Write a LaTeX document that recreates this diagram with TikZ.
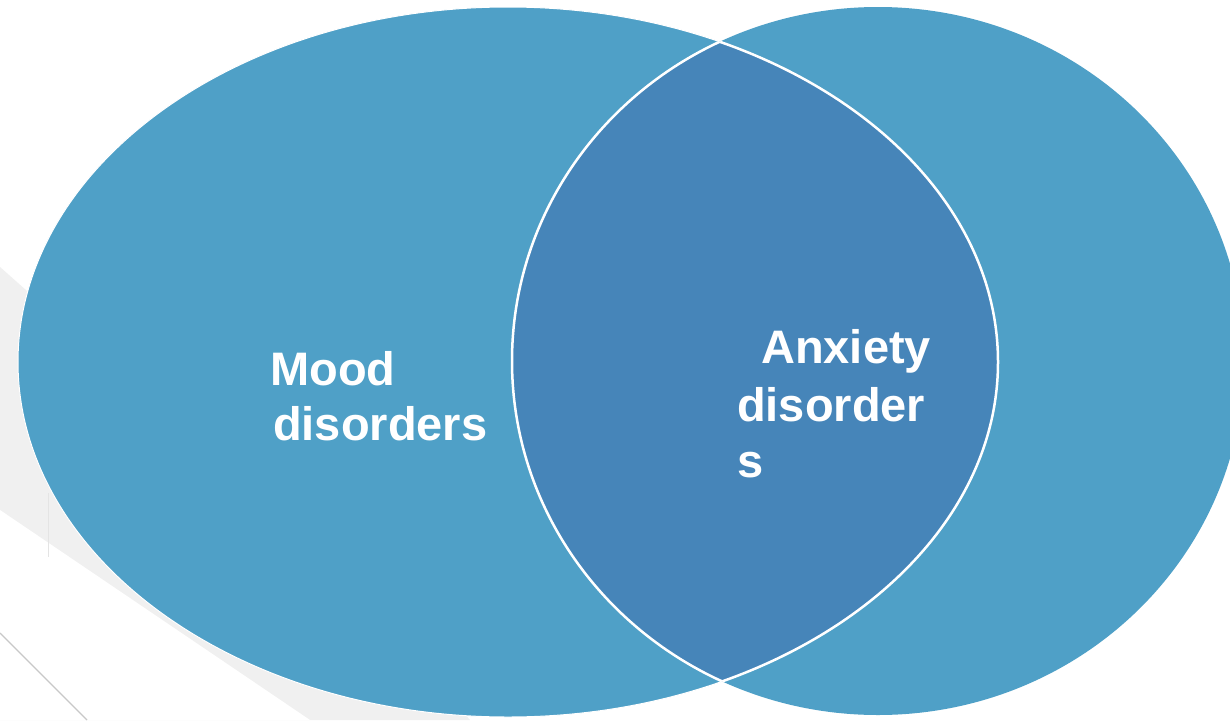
\documentclass[tikz,border=0pt]{standalone}
\usepackage{fontspec}
\setmainfont{Liberation Sans}
\definecolor{vlight}{RGB}{79,160,199}
\definecolor{vdark}{RGB}{70,133,185}
\definecolor{bggray}{RGB}{240,240,240}
\definecolor{linegray}{RGB}{200,200,200}
\definecolor{faintgray}{RGB}{228,228,228}
\begin{document}
\begin{tikzpicture}[x=1pt,y=-1pt,
  lbl/.style={anchor=base west, inner sep=0pt, text=white,
    font=\fontsize{47}{56}\selectfont\bfseries},
  lens/.style={white, line width=2.5pt},
  lrad/.style={x radius=490, y radius=355},
  rrad/.style={x radius=366, y radius=354}]
\useasboundingbox (0,0) rectangle (1230,720);
\fill[white] (0,0) rectangle (1230,720);
% background decoration
\fill[bggray] (0,267) -- (330,560) -- (470,720) -- (0,720) -- cycle;
\fill[white] (0,510) -- (310,720) -- (0,720) -- cycle;
\draw[linegray, line width=1.2pt] (0,633) -- (87,720);
\draw[faintgray, line width=0.8pt] (48,493) -- (48,557);
% ellipses
\coordinate (L) at (508,362);
\coordinate (R) at (878,361);
\fill[vlight] (R) ellipse [rrad];
\filldraw[fill=vlight, draw=white, line width=1pt] (L) ellipse [lrad];
\begin{scope}
  \clip (L) ellipse [lrad];
  \fill[vdark] (R) ellipse [rrad];
  \draw[lens] (R) ellipse [rrad];
\end{scope}
\begin{scope}
  \clip (R) ellipse [rrad];
  \draw[lens] (L) ellipse [lrad];
\end{scope}
% labels
\node[lbl] (m1) at (270,385) {Mood};
\node[lbl] (m2) at (273,440) {disorders};
\node[lbl] (a1) at (761,363) {Anxiety};
\node[lbl] (a2) at (737,421) {disorder};
\node[lbl] (a3) at (737,477) {s};
\end{tikzpicture}
\end{document}
